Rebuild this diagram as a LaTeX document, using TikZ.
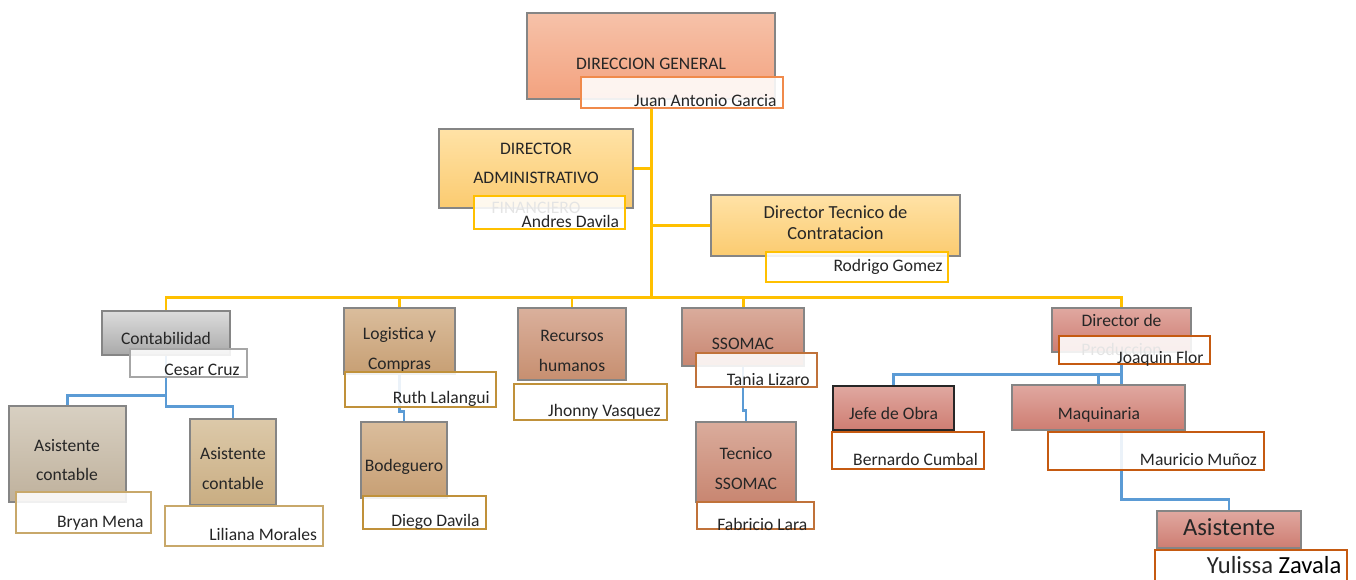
\documentclass[tikz,border=0pt]{standalone}
\usepackage{fontspec}
\setmainfont{Carlito}
\usepackage{tikz}
\usetikzlibrary{fit,backgrounds}
\usepackage{xcolor}
\definecolor{ink}{HTML}{262626}
\definecolor{boxline}{HTML}{858585}
\definecolor{dgtop}{HTML}{F6C2A9}
\definecolor{dgbot}{HTML}{F3A27F}
\definecolor{dgline}{HTML}{F08A4B}
\definecolor{adtop}{HTML}{FFE2A6}
\definecolor{adbot}{HTML}{FBCB70}
\definecolor{gold}{HTML}{FFC000}
\definecolor{grtop}{HTML}{DCDCDC}
\definecolor{grbot}{HTML}{A9A9A9}
\definecolor{grline}{HTML}{A6A6A6}
\definecolor{aatop}{HTML}{D8D0C2}
\definecolor{aabot}{HTML}{BFB19C}
\definecolor{abtop}{HTML}{DCC9A9}
\definecolor{abbot}{HTML}{C9AD82}
\definecolor{tanline}{HTML}{C8A86A}
\definecolor{lgtop}{HTML}{DABD9C}
\definecolor{lgbot}{HTML}{C79F74}
\definecolor{lgline}{HTML}{C0913A}
\definecolor{rhtop}{HTML}{DAB09C}
\definecolor{rhbot}{HTML}{C78F70}
\definecolor{sstop}{HTML}{DAAC9C}
\definecolor{ssbot}{HTML}{C88671}
\definecolor{ssline}{HTML}{C0723A}
\definecolor{prtop}{HTML}{E0A8A0}
\definecolor{prbot}{HTML}{CE7D72}
\definecolor{prline}{HTML}{C55A11}
\definecolor{blueln}{HTML}{5B9BD5}

\begin{document}
\begin{tikzpicture}[x=0.02cm,y=-0.02cm,
  unit/.style={draw=boxline,line width=0.6pt,inner sep=0pt},
  tag/.style={draw=#1,line width=0.8pt,fill=white,fill opacity=0.88,inner sep=0pt},
  ttl/.style={text=ink,font=\fontsize{10}{16.7}\selectfont,align=center,anchor=base,inner sep=0pt},
  who/.style={text=ink,font=\fontsize{10}{12}\selectfont,anchor=base east,inner sep=0pt},
  yel/.style={draw=gold,line width=1.7pt},
  blu/.style={draw=blueln,line width=1.6pt}]
\useasboundingbox (0,0) rectangle (1356,579);
% top level
\node[unit,top color=dgtop,bottom color=dgbot,fit={(527,13) (775,99)}] (dg) {};
\node[ttl] (dgt) at (651,69) {DIRECCION GENERAL};
\node[tag=dgline,fit={(581,77) (783,108)}] (dgn) {};
\node[who] (dgw) at (777,106.5) {Juan Antonio Garcia};
\node[unit,top color=adtop,bottom color=adbot,fit={(439,129) (633,208)}] (adm) {};
\node[ttl] (admt) at (536,213) {DIRECTOR\\ADMINISTRATIVO\\FINANCIERO};
\node[tag=gold,fit={(474,196) (625,229)}] (admn) {};
\node[who] (admw) at (619.5,227) {Andres Davila};
\node[unit,top color=adtop,bottom color=adbot,fit={(711,195) (960,256)}] (dtc) {};
\node[ttl,font=\fontsize{10.5}{11.9}\selectfont] (dtct) at (835.5,239.3) {Director Tecnico de\\Contratacion};
\node[tag=gold,fit={(766,252) (948,282)}] (dtcn) {};
\node[who] (dtcw) at (943,271.7) {Rodrigo Gomez};
% departments
\node[unit,top color=grtop,bottom color=grbot,fit={(102,311) (230,355)}] (cont) {};
\node[ttl] (contt) at (166,344) {Contabilidad};
\node[tag=grline,fit={(130,349) (247,377)}] (contn) {};
\node[who] (contw) at (240,375.5) {Cesar Cruz};
\node[unit,top color=aatop,bottom color=aabot,fit={(9,406) (126,502)}] (asa) {};
\node[ttl] (asat) at (67,480.7) {Asistente\\contable};
\node[tag=tanline,fit={(16,492) (151,533)}] (asan) {};
\node[who] (asaw) at (144,527.3) {Bryan Mena};
\node[unit,top color=abtop,bottom color=abbot,fit={(190,419) (276,505)}] (asb) {};
\node[ttl] (asbt) at (233,489.3) {Asistente\\contable};
\node[tag=tanline,fit={(165,506) (323,546)}] (asbn) {};
\node[who] (asbw) at (317.3,540) {Liliana Morales};
\node[unit,top color=lgtop,bottom color=lgbot,fit={(344,308) (455,374)}] (log) {};
\node[ttl] (logt) at (399.5,369) {Logistica y\\Compras};
\node[tag=lgline,fit={(345,372) (496,407)}] (logn) {};
\node[who] (logw) at (490,403.3) {Ruth Lalangui};
\node[unit,top color=lgtop,bottom color=lgbot,fit={(361,422) (447,498)}] (bod) {};
\node[ttl] (bodt) at (404,471.7) {Bodeguero};
\node[tag=lgline,fit={(363,496) (486,529)}] (bodn) {};
\node[who] (bodw) at (480,526) {Diego Davila};
\node[unit,top color=rhtop,bottom color=rhbot,fit={(518,308) (626,380)}] (rh) {};
\node[ttl] (rht) at (572,371) {Recursos\\humanos};
\node[tag=lgline,fit={(514,384) (667,420)}] (rhn) {};
\node[who] (rhw) at (661,416) {Jhonny Vasquez};
\node[unit,top color=sstop,bottom color=ssbot,fit={(682,308) (804,366)}] (ss) {};
\node[ttl] (sst) at (743,349.3) {SSOMAC};
\node[tag=ssline,fit={(696,353) (817,387)}] (ssn) {};
\node[who] (ssw) at (810,385) {Tania Lizaro};
\node[unit,top color=sstop,bottom color=ssbot,fit={(696,422) (796,502)}] (tss) {};
\node[ttl] (tsst) at (746,489.3) {Tecnico\\SSOMAC};
\node[tag=ssline,fit={(697,502) (814,529)}] (tssn) {};
\node[who] (tssw) at (807.7,530) {Fabricio Lara};
% produccion
\node[unit,top color=prtop,bottom color=prbot,fit={(1052,308) (1191,352)}] (prod) {};
\node[ttl] (prodt) at (1121.5,355.7) {Director de\\Produccion};
\node[tag=prline,fit={(1059,336) (1210,364)}] (prodn) {};
\node[who] (prodw) at (1204,363) {Joaquin Flor};
\node[unit,draw=black!85,top color=prtop,bottom color=prbot,fit={(833,386) (954,430)}] (jefe) {};
\node[ttl] (jefet) at (893.5,419) {Jefe de Obra};
\node[tag=prline,fit={(832,432) (984,469)}] (jefen) {};
\node[who] (jefew) at (978.3,465) {Bernardo Cumbal};
\node[unit,top color=prtop,bottom color=prbot,fit={(1012,385) (1185,430)}] (maq) {};
\node[ttl] (maqt) at (1099,419) {Maquinaria};
\node[tag=prline,fit={(1048,432) (1264,470)}] (maqn) {};
\node[who] (maqw) at (1257.3,465) {Mauricio Muñoz};
\node[unit,top color=prtop,bottom color=prbot,fit={(1157,511) (1301,548)}] (ast) {};
\node[ttl,font=\fontsize{14}{16}\selectfont] (astt) at (1229,535) {Asistente};
\node[tag=prline,fit={(1155,550) (1347,590)}] (astn) {};
\node[who,font=\fontsize{14}{16}\selectfont] (astw) at (1341.7,573.3) {Yulissa \textcolor{black}{Zavala}};
% connectors
\begin{scope}[on background layer]
\coordinate (bus) at (651,297.5);
\draw[yel] (dg.south) -- (bus);
\draw[yel] (adm.east) -| (dg.south);
\draw[yel] (dtc.west) -| (dg.south);
\draw[yel] (cont.north) |- (bus);
\draw[yel] (log.north) |- (bus);
\draw[yel] (rh.north) |- (bus);
\draw[yel] (ss.north) |- (bus);
\draw[yel] (prod.north) |- (bus);
\draw[blu] (cont.south) |- ([yshift=0.2cm]asa.north) -- (asa.north);
\draw[blu] (cont.south) |- ([yshift=0.24cm]asb.north) -- (asb.north);
\draw[blu] (log.south) |- ([yshift=0.2cm]bod.north) -- (bod.north);
\draw[blu] (ss.south) |- ([yshift=0.22cm]tss.north) -- (tss.north);
\draw[blu] (prod.south) |- ([yshift=0.22cm]jefe.north) -- (jefe.north);
\draw[blu] (prod.south) |- ([yshift=0.2cm]maq.north) -- (maq.north);
\draw[blu] (prod.south) |- ([yshift=0.22cm]ast.north) -- (ast.north);
\end{scope}
\end{tikzpicture}
\end{document}
